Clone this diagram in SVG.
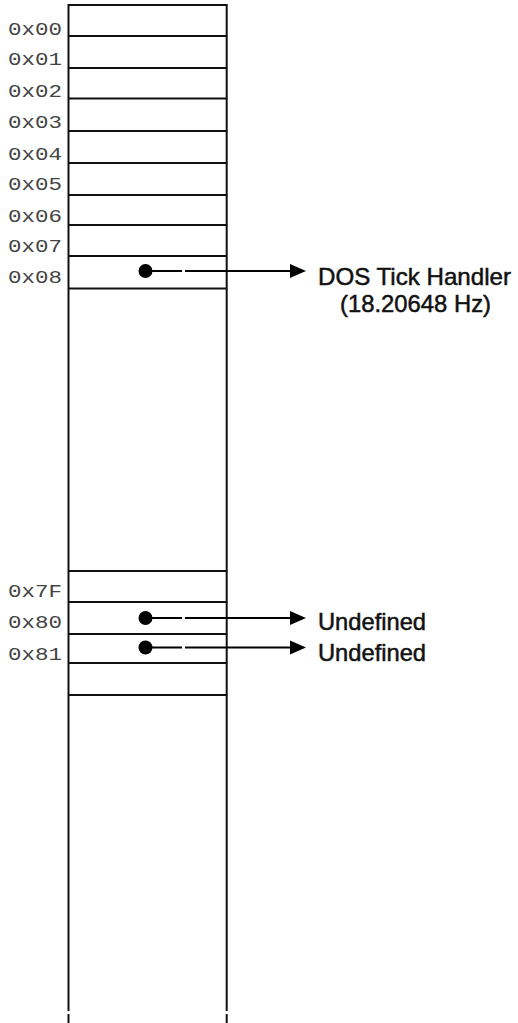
<svg xmlns="http://www.w3.org/2000/svg" width="518" height="1023" viewBox="0 0 518 1023">
<style>
.frame{stroke:#111;stroke-width:2;fill:none}
.row{stroke:#111;stroke-width:1.8;fill:none}
.lbl{font-family:"Liberation Mono","Courier New",monospace;font-size:18px;fill:#444;text-anchor:end}
.conn{stroke:#000;stroke-width:1.8;fill:none}
.dot{fill:#000}
.txt{font-family:"Liberation Sans",Arial,sans-serif;font-size:24px;fill:#111;stroke:#111;stroke-width:0.5}
</style>
<rect width="518" height="1023" fill="#fff"/>
<g id="table">
<path class="frame" d="M68.5,5 H226.7 M68.5,4 V1011 M68.5,1014 V1023 M226.7,4 V1011 M226.7,1014 V1023"/>
</g>
<g id="row-0x00"><line class="row" x1="68.5" y1="36" x2="226.7" y2="36"/><text class="lbl" x="62" y="35" textLength="54" lengthAdjust="spacingAndGlyphs">0x00</text></g>
<g id="row-0x01"><line class="row" x1="68.5" y1="68" x2="226.7" y2="68"/><text class="lbl" x="62" y="65" textLength="54" lengthAdjust="spacingAndGlyphs">0x01</text></g>
<g id="row-0x02"><line class="row" x1="68.5" y1="98.5" x2="226.7" y2="98.5"/><text class="lbl" x="62" y="96.5" textLength="54" lengthAdjust="spacingAndGlyphs">0x02</text></g>
<g id="row-0x03"><line class="row" x1="68.5" y1="131" x2="226.7" y2="131"/><text class="lbl" x="62" y="128" textLength="54" lengthAdjust="spacingAndGlyphs">0x03</text></g>
<g id="row-0x04"><line class="row" x1="68.5" y1="163" x2="226.7" y2="163"/><text class="lbl" x="62" y="160" textLength="54" lengthAdjust="spacingAndGlyphs">0x04</text></g>
<g id="row-0x05"><line class="row" x1="68.5" y1="195" x2="226.7" y2="195"/><text class="lbl" x="62" y="190" textLength="54" lengthAdjust="spacingAndGlyphs">0x05</text></g>
<g id="row-0x06"><line class="row" x1="68.5" y1="225" x2="226.7" y2="225"/><text class="lbl" x="62" y="221.5" textLength="54" lengthAdjust="spacingAndGlyphs">0x06</text></g>
<g id="row-0x07"><line class="row" x1="68.5" y1="256" x2="226.7" y2="256"/><text class="lbl" x="62" y="251.5" textLength="54" lengthAdjust="spacingAndGlyphs">0x07</text></g>
<g id="row-0x08"><line class="row" x1="68.5" y1="288.5" x2="226.7" y2="288.5"/><text class="lbl" x="62" y="283" textLength="54" lengthAdjust="spacingAndGlyphs">0x08</text><circle class="dot" cx="145.5" cy="271" r="7"/></g>
<g id="row-gap"><line class="row" x1="68.5" y1="571" x2="226.7" y2="571"/></g>
<g id="row-0x7F"><line class="row" x1="68.5" y1="602" x2="226.7" y2="602"/><text class="lbl" x="62" y="597" textLength="54" lengthAdjust="spacingAndGlyphs">0x7F</text></g>
<g id="row-0x80"><line class="row" x1="68.5" y1="634" x2="226.7" y2="634"/><text class="lbl" x="62" y="628" textLength="54" lengthAdjust="spacingAndGlyphs">0x80</text><circle class="dot" cx="145.5" cy="618" r="7"/></g>
<g id="row-0x81"><line class="row" x1="68.5" y1="663" x2="226.7" y2="663"/><text class="lbl" x="62" y="660" textLength="54" lengthAdjust="spacingAndGlyphs">0x81</text><circle class="dot" cx="145.5" cy="647.5" r="7"/></g>
<g id="row-end"><line class="row" x1="68.5" y1="695" x2="226.7" y2="695"/></g>
<g id="connectors">
<path class="conn" d="M146,271 H182 M185,271 H292"/>
<path d="M290,264 L306,271 L290,278 Z" fill="#000"/>
<path class="conn" d="M146,618 H182 M185,618 H292"/>
<path d="M290,611 L306,618 L290,625 Z" fill="#000"/>
<path class="conn" d="M146,647.5 H182 M185,647.5 H292"/>
<path d="M290,640.5 L306,647.5 L290,654.5 Z" fill="#000"/>
</g>
<g id="dos-handler">
<text class="txt" x="318" y="285" textLength="193" lengthAdjust="spacingAndGlyphs">DOS Tick Handler</text>
<text class="txt" x="340" y="312" textLength="151" lengthAdjust="spacingAndGlyphs">(18.20648 Hz)</text>
</g>
<g id="undefined-0x80"><text class="txt" x="318" y="630" textLength="108" lengthAdjust="spacingAndGlyphs">Undefined</text></g>
<g id="undefined-0x81"><text class="txt" x="318" y="661" textLength="108" lengthAdjust="spacingAndGlyphs">Undefined</text></g>
</svg>
